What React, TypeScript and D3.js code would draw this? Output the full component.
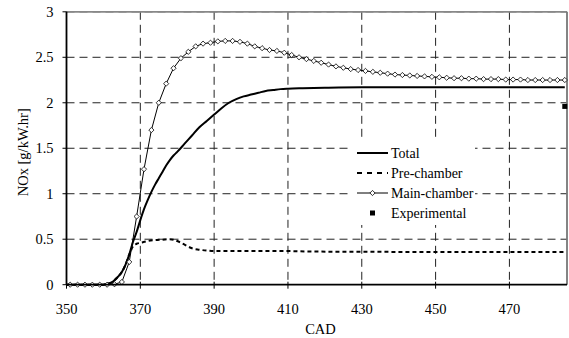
import React from "react";
import * as d3 from "d3";

// Crank angle (CAD) and NOx [g/kW.hr]
const totalCad = [350, 355, 360, 361, 362, 363, 364, 365, 366, 367, 368, 369, 370, 371, 372, 373, 374, 375, 376, 377, 378, 379, 380, 382, 384, 386, 388, 390, 392, 394, 396, 398, 400, 402, 404, 406, 408, 410, 414, 420, 430, 450, 470, 485];
const totalNox = [0, 0, 0, 0.01, 0.02, 0.05, 0.09, 0.14, 0.22, 0.33, 0.47, 0.58, 0.71, 0.83, 0.93, 1.02, 1.1, 1.17, 1.24, 1.31, 1.37, 1.42, 1.46, 1.55, 1.64, 1.73, 1.8, 1.87, 1.94, 2.0, 2.04, 2.07, 2.09, 2.11, 2.13, 2.14, 2.15, 2.155, 2.16, 2.165, 2.17, 2.17, 2.17, 2.17];

const preCad = [350, 355, 360, 361, 362, 363, 364, 365, 366, 367, 368, 369, 370, 372, 374, 376, 378, 379, 380, 382, 384, 386, 388, 390, 400, 410, 415, 430, 450, 470, 485];
const preNox = [0, 0, 0, 0.01, 0.02, 0.05, 0.09, 0.14, 0.22, 0.33, 0.42, 0.45, 0.46, 0.48, 0.49, 0.495, 0.5, 0.495, 0.48, 0.44, 0.4, 0.385, 0.375, 0.37, 0.37, 0.37, 0.365, 0.362, 0.36, 0.36, 0.36];

const mainCad = [351, 353, 355, 357, 359, 361, 363, 365, 367, 369, 371, 373, 375, 377, 379, 381, 383, 385, 387, 389, 391, 393, 395, 397, 399, 401, 403, 405, 407, 409, 411, 413, 415, 417, 419, 421, 423, 425, 427, 429, 431, 433, 435, 437, 439, 441, 443, 445, 447, 449, 451, 453, 455, 457, 459, 461, 463, 465, 467, 469, 471, 473, 475, 477, 479, 481, 483, 485];
const mainNox = [0, 0, 0, 0, 0, 0, 0.005, 0.03, 0.25, 0.75, 1.27, 1.7, 2.0, 2.21, 2.38, 2.49, 2.56, 2.62, 2.65, 2.66, 2.675, 2.68, 2.68, 2.67, 2.65, 2.62, 2.6, 2.58, 2.57, 2.55, 2.525, 2.5, 2.48, 2.46, 2.44, 2.42, 2.4, 2.385, 2.37, 2.36, 2.35, 2.34, 2.33, 2.32, 2.31, 2.305, 2.3, 2.295, 2.29, 2.285, 2.28, 2.275, 2.27, 2.27, 2.265, 2.265, 2.26, 2.26, 2.26, 2.255, 2.255, 2.255, 2.25, 2.25, 2.25, 2.25, 2.25, 2.25];

const expCad = [485];
const expNox = [1.96];

const xTicks = [350, 370, 390, 410, 430, 450, 470];
const yTicks = [0, 0.5, 1, 1.5, 2, 2.5, 3];

const legendLabels = ["Total", "Pre-chamber", "Main-chamber", "Experimental"];

const W = 569;
const H = 338;
const left = 66.5;
const right = 567;
const top = 11.8;
const bottom = 284.7;
const FONT = '"Liberation Serif", "Times New Roman", Times, serif';
const textStyle = { fontFamily: FONT };

export default function App() {
  const x = d3.scaleLinear().domain([350, 485.6]).range([left, right]);
  const y = d3.scaleLinear().domain([0, 3]).range([bottom, top]);

  const line = d3
    .line<[number, number]>()
    .x((d) => x(d[0]))
    .y((d) => y(d[1]));
  const smooth = d3
    .line<[number, number]>()
    .x((d) => x(d[0]))
    .y((d) => y(d[1]))
    .curve(d3.curveMonotoneX);

  const totalPts = totalCad.map((c, i) => [c, totalNox[i]] as [number, number]);
  const prePts = preCad.map((c, i) => [c, preNox[i]] as [number, number]);
  const mainPts = mainCad.map((c, i) => [c, mainNox[i]] as [number, number]);

  const diamond = (cx: number, cy: number, r = 2.6) =>
    `M${cx},${cy - r}L${cx + r},${cy}L${cx},${cy + r}L${cx - r},${cy}Z`;

  const legX1 = 357;
  const legX2 = 388;
  const legTextX = 391;
  const legY0 = 153;
  const legStep = 20;

  return (
    <svg
      width={W}
      height={H}
      style={{ position: "absolute", left: 0, top: 0, background: "#fff", fontFamily: FONT }}
    >
      <rect x={0} y={0} width={W} height={H} fill="#fff" />

      {/* gridlines */}
      {yTicks
        .filter((t) => t > 0)
        .map((t) => (
          <line
            key={"gy" + t}
            x1={left}
            x2={right}
            y1={y(t)}
            y2={y(t)}
            stroke="#222"
            strokeWidth={1}
            strokeDasharray="8,5"
          />
        ))}
      {xTicks
        .filter((t) => t > 350)
        .map((t) => (
          <line
            key={"gx" + t}
            x1={x(t)}
            x2={x(t)}
            y1={top}
            y2={bottom}
            stroke="#222"
            strokeWidth={1}
            strokeDasharray="8,5"
          />
        ))}

      {/* frame */}
      <line x1={left} x2={right} y1={top} y2={top} stroke="#888" strokeWidth={1.8} />
      <line x1={right} x2={right} y1={top} y2={bottom} stroke="#777" strokeWidth={1.8} />

      {/* legend background */}
      <rect x={350} y={141} width={125} height={84} fill="#fff" />

      {/* series */}
      <path d={smooth(totalPts) || ""} fill="none" stroke="#000" strokeWidth={2} />
      <path d={smooth(prePts) || ""} fill="none" stroke="#000" strokeWidth={2} strokeDasharray="4,3" />
      <path d={line(mainPts) || ""} fill="none" stroke="#000" strokeWidth={1} />
      {mainPts.map((p, i) => (
        <path key={"m" + i} d={diamond(x(p[0]), y(p[1]))} fill="#fff" stroke="#000" strokeWidth={0.8} />
      ))}
      {expCad.map((c, i) => (
        <rect key={"e" + i} x={x(c) - 2.5} y={y(expNox[i]) - 2.5} width={5} height={5} fill="#000" />
      ))}

      {/* axes */}
      <line x1={left} x2={left} y1={top} y2={bottom} stroke="#000" strokeWidth={1.8} />
      <line x1={left} x2={right} y1={bottom} y2={bottom} stroke="#000" strokeWidth={1.8} />
      {yTicks.map((t) => (
        <g key={"yt" + t}>
          <line x1={left - 4} x2={left} y1={y(t)} y2={y(t)} stroke="#000" strokeWidth={1} />
          <text x={53.5} y={y(t)} dy="0.35em" textAnchor="end" fontSize={14.5} fill="#000" style={textStyle}>
            {t}
          </text>
        </g>
      ))}
      {xTicks.map((t) => (
        <g key={"xt" + t}>
          <line x1={x(t)} x2={x(t)} y1={bottom - 3} y2={bottom + 4} stroke="#000" strokeWidth={1} />
          <text x={x(t)} y={314.3} textAnchor="middle" fontSize={14.5} fill="#000" style={textStyle}>
            {t}
          </text>
        </g>
      ))}
      <text x={320.5} y={334} textAnchor="middle" fontSize={14.5} fill="#000" style={textStyle}>
        CAD
      </text>
      <text
        transform={`translate(27.5,${(top + bottom) / 2 + 4}) rotate(-90)`}
        textAnchor="middle"
        fontSize={14.5}
        fill="#000"
        style={textStyle}
      >
        NOx [g/kW.hr]
      </text>

      {/* legend */}
      <g>
        <line x1={legX1} x2={legX2} y1={legY0} y2={legY0} stroke="#000" strokeWidth={2} />
        <line x1={legX1} x2={legX2} y1={legY0 + legStep} y2={legY0 + legStep} stroke="#000" strokeWidth={2} strokeDasharray="5,5" />
        <line x1={legX1} x2={legX2} y1={legY0 + 2 * legStep} y2={legY0 + 2 * legStep} stroke="#000" strokeWidth={1} />
        <path d={diamond((legX1 + legX2) / 2, legY0 + 2 * legStep)} fill="#fff" stroke="#000" strokeWidth={0.8} />
        <rect x={(legX1 + legX2) / 2 - 2.5} y={legY0 + 3 * legStep - 2.5} width={5} height={5} fill="#000" />
        {legendLabels.map((l, i) => (
          <text key={l} x={legTextX} y={legY0 + i * legStep} dy="0.35em" fontSize={14} fill="#000" style={textStyle}>
            {l}
          </text>
        ))}
      </g>
    </svg>
  );
}
